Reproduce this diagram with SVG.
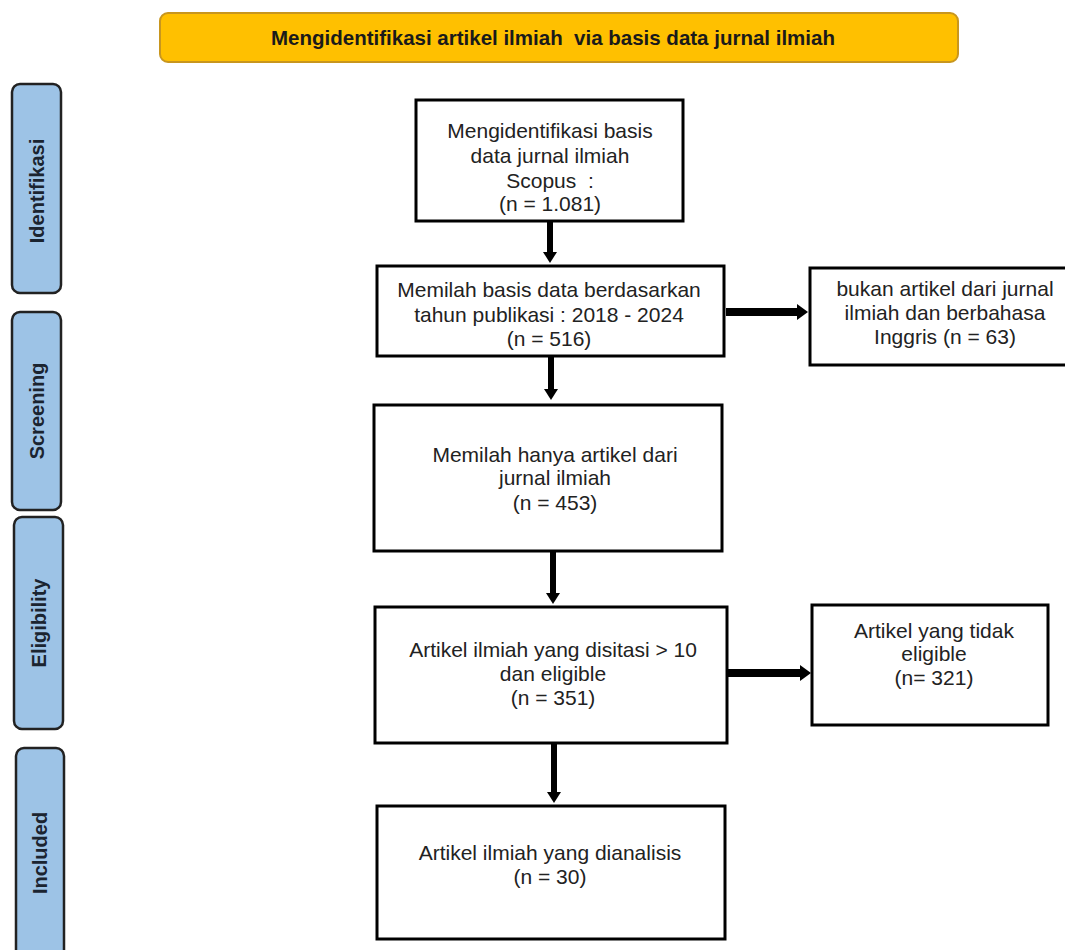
<svg xmlns="http://www.w3.org/2000/svg" width="1065" height="950" viewBox="0 0 1065 950">
<defs>
<style>
.box{fill:#fff;stroke:#000;stroke-width:3}
.phase{fill:#9DC3E6;stroke:#222;stroke-width:2.5}
.ptxt{font-family:"Liberation Sans",Arial,sans-serif;font-weight:bold;font-size:20px;fill:#1b2430;text-anchor:middle}
.t{font-family:"Liberation Sans",Arial,sans-serif;font-size:21px;fill:#222;text-anchor:middle}
.conn{stroke:#000;stroke-width:6;fill:none}
.connh{stroke:#000;stroke-width:8;fill:none}
</style>
<marker id="ah" markerUnits="userSpaceOnUse" markerWidth="12" markerHeight="14" refX="0" refY="7" orient="auto">
<path d="M0,0 L11,7 L0,14 Z" fill="#000"/>
</marker>
<marker id="ahh" markerUnits="userSpaceOnUse" markerWidth="12" markerHeight="16" refX="0" refY="8" orient="auto">
<path d="M0,0 L11,8 L0,16 Z" fill="#000"/>
</marker>
</defs>
<rect width="1065" height="950" fill="#fff"/>

<g id="banner">
<rect x="160" y="13" width="798" height="49" rx="8" fill="#FFC000" stroke="#C8961E" stroke-width="2"/>
<text x="553" y="45" font-family="'Liberation Sans',Arial,sans-serif" font-weight="bold" font-size="20.5" fill="#1a1a1a" text-anchor="middle" xml:space="preserve">Mengidentifikasi artikel ilmiah  via basis data jurnal ilmiah</text>
</g>

<g id="phase-identifikasi">
<rect class="phase" x="12" y="84" width="49" height="209" rx="8"/>
<text class="ptxt" transform="translate(44,191) rotate(-90)">Identifikasi</text>
</g>
<g id="phase-screening">
<rect class="phase" x="12" y="312" width="49" height="198" rx="8"/>
<text class="ptxt" transform="translate(44,411) rotate(-90)">Screening</text>
</g>
<g id="phase-eligibility">
<rect class="phase" x="14" y="517" width="49" height="212" rx="8"/>
<text class="ptxt" transform="translate(46,623) rotate(-90)">Eligibility</text>
</g>
<g id="phase-included">
<rect class="phase" x="16" y="748" width="48" height="215" rx="8"/>
<text class="ptxt" transform="translate(47,853) rotate(-90)">Included</text>
</g>

<g id="n1">
<rect class="box" x="416" y="100" width="267" height="121"/>
<text class="t" x="550" y="138">Mengidentifikasi basis</text>
<text class="t" x="550" y="163">data jurnal ilmiah</text>
<text class="t" x="550" y="188" xml:space="preserve">Scopus  :</text>
<text class="t" x="550" y="211">(n = 1.081)</text>
</g>
<g id="n2">
<rect class="box" x="377" y="266" width="347" height="90"/>
<text class="t" x="549" y="297">Memilah basis data berdasarkan</text>
<text class="t" x="549" y="322">tahun publikasi : 2018 - 2024</text>
<text class="t" x="549" y="346">(n = 516)</text>
</g>
<g id="n2x">
<rect class="box" x="810" y="268" width="262" height="97"/>
<text class="t" x="945" y="296">bukan artikel dari jurnal</text>
<text class="t" x="945" y="320">ilmiah dan berbahasa</text>
<text class="t" x="945" y="344">Inggris (n = 63)</text>
</g>
<g id="n3">
<rect class="box" x="374" y="405" width="348" height="146"/>
<text class="t" x="555" y="462">Memilah hanya artikel dari</text>
<text class="t" x="555" y="485">jurnal ilmiah</text>
<text class="t" x="555" y="510">(n = 453)</text>
</g>
<g id="n4">
<rect class="box" x="375" y="607" width="352" height="136"/>
<text class="t" x="553" y="657">Artikel ilmiah yang disitasi &gt; 10</text>
<text class="t" x="553" y="681">dan eligible</text>
<text class="t" x="553" y="705">(n = 351)</text>
</g>
<g id="n4x">
<rect class="box" x="812" y="605" width="236" height="120"/>
<text class="t" x="934" y="638">Artikel yang tidak</text>
<text class="t" x="934" y="661">eligible</text>
<text class="t" x="934" y="685">(n= 321)</text>
</g>
<g id="n5">
<rect class="box" x="377" y="806" width="348" height="133"/>
<text class="t" x="550" y="860">Artikel ilmiah yang dianalisis</text>
<text class="t" x="550" y="884">(n = 30)</text>
</g>

<g id="connectors">
<line class="conn" x1="550" y1="222" x2="550" y2="252" marker-end="url(#ah)"/>
<line class="conn" x1="551" y1="357" x2="551" y2="389" marker-end="url(#ah)"/>
<line class="conn" x1="553" y1="552" x2="553" y2="593" marker-end="url(#ah)"/>
<line class="conn" x1="554" y1="744" x2="554" y2="792" marker-end="url(#ah)"/>
<line class="connh" x1="726" y1="312" x2="797" y2="312" marker-end="url(#ahh)"/>
<line class="connh" x1="728" y1="673" x2="800" y2="673" marker-end="url(#ahh)"/>
</g>
</svg>
